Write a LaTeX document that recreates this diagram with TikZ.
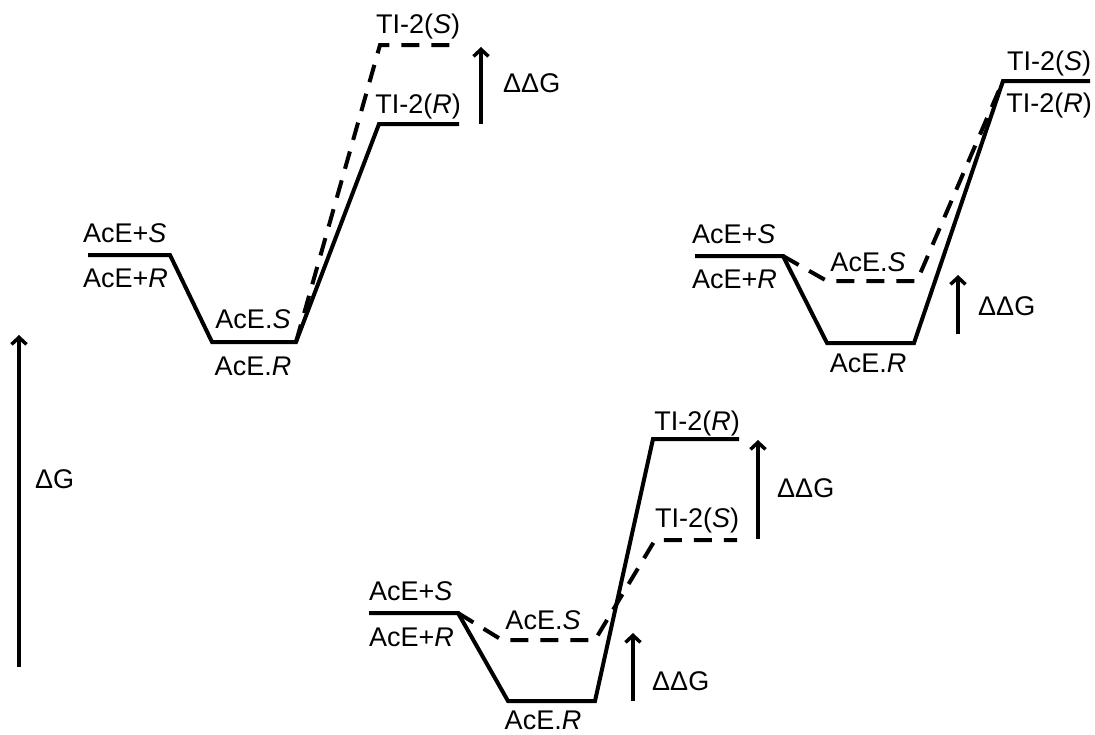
\documentclass[tikz,border=0pt]{standalone}
\usepackage{fontspec}
\setmainfont{Liberation Sans}
\usetikzlibrary{arrows.meta}
\begin{document}
\begin{tikzpicture}[x=1pt,y=-1pt,
  lvl/.style={line width=4pt,line join=miter},
  dlvl/.style={line width=4pt,dash pattern=on 18pt off 12pt},
  lab/.style={inner sep=0pt,font=\fontsize{27}{30}\selectfont},
  arr/.style={line width=3.5pt,-{Straight Barb[length=7pt,width=15pt]}}]
\useasboundingbox (0,0) rectangle (1095,734);

% ---------- Delta G axis ----------
\coordinate (g0) at (19,667);
\coordinate (g1) at (19,335);
\draw[arr] (g0) -- (g1);
\node[lab,anchor=base west] (dG) at (35,488) {ΔG};

% ---------- Panel 1 ----------
\coordinate (a1) at (88,255);
\coordinate (b1) at (170,255);
\coordinate (c1) at (212,342);
\coordinate (d1) at (296,342);
\coordinate (e1) at (379,124);
\coordinate (f1) at (459,124);
\coordinate (s1) at (380,45);
\coordinate (t1) at (456,45);
\draw[lvl] (a1) -- (b1) -- (c1) -- (d1) -- (e1) -- (f1);
\draw[dlvl] (d1) -- (s1) -- (t1);
\coordinate (p1a) at (481,124);
\coordinate (p1b) at (481,47);
\draw[arr] (p1a) -- (p1b);
\node[lab,anchor=base west] (l1s) at (83,242) {AcE+\textit{S}};
\node[lab,anchor=base west] (l1r) at (83,287) {AcE+\textit{R}};
\node[lab,anchor=base] (m1s) at (253,328) {AcE.\textit{S}};
\node[lab,anchor=base] (m1r) at (253,375) {AcE.\textit{R}};
\node[lab,anchor=base] (t1s) at (418,33) {TI-2(\textit{S})};
\node[lab,anchor=base] (t1r) at (418,113) {TI-2(\textit{R})};
\node[lab,anchor=base west] (dd1) at (503,92) {ΔΔG};

% ---------- Panel 2 ----------
\coordinate (a2) at (695,256);
\coordinate (b2) at (783,256);
\coordinate (c2) at (827,343);
\coordinate (d2) at (914,343);
\coordinate (e2) at (1003,81);
\coordinate (f2) at (1090,81);
\coordinate (u2) at (827,281);
\coordinate (v2) at (917,281);
\draw[lvl] (a2) -- (b2) -- (c2) -- (d2) -- (e2) -- (f2);
\draw[dlvl] (b2) -- (u2) -- (v2) -- (e2);
\coordinate (p2a) at (958,334);
\coordinate (p2b) at (958,275);
\draw[arr] (p2a) -- (p2b);
\node[lab,anchor=base west] (l2s) at (692,243) {AcE+\textit{S}};
\node[lab,anchor=base west] (l2r) at (692,288) {AcE+\textit{R}};
\node[lab,anchor=base] (m2s) at (868,271) {AcE.\textit{S}};
\node[lab,anchor=base] (m2r) at (868,372) {AcE.\textit{R}};
\node[lab,anchor=base] (t2s) at (1049,70) {TI-2(\textit{S})};
\node[lab,anchor=base] (t2r) at (1049,112) {TI-2(\textit{R})};
\node[lab,anchor=base west] (dd2) at (978,315) {ΔΔG};

% ---------- Panel 3 ----------
\coordinate (a3) at (369,613);
\coordinate (b3) at (458,613);
\coordinate (c3) at (508,701);
\coordinate (d3) at (595,701);
\coordinate (e3) at (653,439);
\coordinate (f3) at (739,439);
\coordinate (u3) at (502,640);
\coordinate (v3) at (595,640);
\coordinate (w3) at (655,540);
\coordinate (x3) at (737,540);
\draw[lvl] (a3) -- (b3) -- (c3) -- (d3) -- (e3) -- (f3);
\draw[dlvl] (b3) -- (u3) -- (v3) -- (w3) -- (x3);
\coordinate (p3a) at (758,539);
\coordinate (p3b) at (758,440);
\draw[arr] (p3a) -- (p3b);
\coordinate (q3a) at (633,701);
\coordinate (q3b) at (633,633);
\draw[arr] (q3a) -- (q3b);
\node[lab,anchor=base west] (l3s) at (369,600) {AcE+\textit{S}};
\node[lab,anchor=base west] (l3r) at (369,646) {AcE+\textit{R}};
\node[lab,anchor=base] (m3s) at (543,629) {AcE.\textit{S}};
\node[lab,anchor=base] (m3r) at (543,729) {AcE.\textit{R}};
\node[lab,anchor=base] (t3r) at (697,430) {TI-2(\textit{R})};
\node[lab,anchor=base] (t3s) at (697,527) {TI-2(\textit{S})};
\node[lab,anchor=base west] (dd3) at (777,497) {ΔΔG};
\node[lab,anchor=base west] (dd4) at (652,690) {ΔΔG};
\end{tikzpicture}
\end{document}
